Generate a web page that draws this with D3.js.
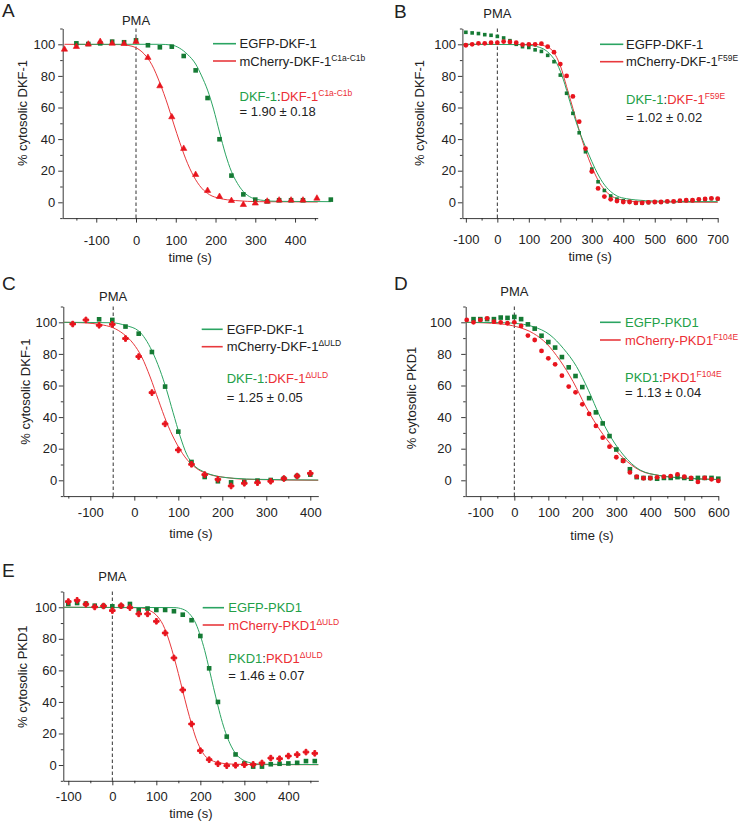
<!DOCTYPE html>
<html>
<head>
<meta charset="utf-8">
<script src="https://cdn.jsdelivr.net/npm/d3@7"></script>
<style>
  body { margin: 0; background: #fff; }
  svg { display: block; }
  text { font-family: "Liberation Sans", Arial, sans-serif; fill: #222; }
</style>
</head>
<body>
<div id="chart"></div>
<script>
// ---- data: [time (s), % cytosolic] ----

// A: EGFP-DKF-1 vs mCherry-DKF-1 C1a-C1b
const aGreen = [[-150,100.6],[-120,100.2],[-90,100.6],[-60,101.7],[-30,101.3],[0,102.5],[30,99.4],[60,98.1],[90,98.5],[120,92.6],[150,83.5],[180,66],[210,39.9],[240,16.9],[270,5],[300,1.7],[330,0.6],[360,1.3],[390,1.3],[420,1.3],[490,1.7]];
const aRed = [[-180,96.8],[-150,98.5],[-120,100],[-90,101.7],[-60,100.6],[-30,100.4],[0,101.7],[30,91.6],[60,73.6],[90,54],[120,34],[150,17.5],[180,7.4],[210,3.6],[240,1.0],[270,-1.5],[300,-0.6],[330,0.6],[360,1.3],[390,1.3],[420,1.3],[455,2.5]];
const aGreenFit = [[-150,100],[60,100],[90,99.5],[110,97.5],[130,93.5],[150,87.5],[165,80],[180,71],[195,59],[210,44.5],[225,30.5],[240,19.5],[255,12],[270,6.8],[290,3],[320,1.2],[360,0.6],[490,0.4]];
const aRedFit = [[-180,100],[-40,99.8],[-20,99.3],[0,97.8],[20,94],[40,87],[60,75.5],[80,61.5],[95,49.5],[110,38],[125,27.5],[145,16.5],[165,9],[185,4.8],[210,2.5],[250,1.1],[310,0.4],[457,0.2]];

// B: EGFP-DKF-1 vs mCherry-DKF-1 F59E
const bGreen = [[-100,107.6],[-80,107.2],[-60,106.8],[-40,106.1],[-20,105.7],[0,105],[20,104],[40,102.3],[60,100],[80,98.5],[100,98],[120,96.5],[140,95.5],[160,93],[180,89],[200,80.5],[220,69],[240,56.3],[260,44],[280,32],[300,21],[320,13],[340,7.5],[360,4],[380,2],[400,1],[420,0.5],[440,-0.6],[460,-0.6],[480,-0.2],[500,0],[520,0],[540,0.4],[560,0.4],[580,0.8],[600,1.1],[620,1.1],[640,1.7],[660,1.9],[680,2.3],[700,2.1]];
const bRed = [[-100,99.4],[-80,100],[-60,100.6],[-40,100.6],[-20,101],[0,101],[20,101.7],[40,101.5],[60,101],[80,99.8],[100,100],[120,100],[140,100.4],[160,98.5],[180,95],[200,87.5],[220,80],[240,67],[260,51],[280,34],[300,19.5],[320,8.8],[340,3.6],[360,1.9],[380,0.8],[400,0.2],[420,0.2],[440,-0.4],[460,-0.4],[480,0],[500,0.2],[520,0.2],[540,0.6],[560,0.6],[580,1],[600,1.3],[620,1.3],[640,1.9],[660,2.1],[680,2.5],[700,2.3]];
const bGreenFit = [[-111,100],[80,99.8],[115,99],[155,96],[175,92],[190,87.5],[210,77.5],[230,64],[250,51],[270,40],[290,30.5],[310,21.5],[335,12.5],[360,6.8],[380,4],[410,2.3],[440,1.5],[500,0.8],[600,0.5],[700,0.4]];
const bRedFit = [[-111,100],[130,99.8],[150,99],[170,97],[185,93],[200,86.5],[220,73.2],[240,59.5],[260,45.5],[280,33],[300,22.5],[320,14],[340,8],[360,4.3],[385,2],[410,1],[460,0.3],[700,0]];

// C: EGFP-DKF-1 vs mCherry-DKF-1 ΔULD
const cGreen = [[-80,101.9],[-50,101.5],[-20,97.3],[10,92.8],[40,81.2],[70,59.3],[100,30.8],[130,11.6],[160,2.1],[190,-0.6],[220,-1.3],[250,-1],[280,-0.2],[310,0.2],[340,1.1],[370,2.7],[400,3.6]];
const cRed = [[-140,98.9],[-110,101.5],[-80,98.1],[-50,98.7],[-20,89.7],[10,78.3],[40,55.5],[70,35.7],[100,19.2],[130,10.1],[160,3.6],[190,0.6],[220,-3.6],[250,-1.9],[280,-1.5],[310,-0.6],[340,1.1],[370,2.7],[400,4.4]];
const cGreenFit = [[-161,100],[-50,99.7],[-20,98],[10,94.5],[25,89.5],[40,82],[58,70],[73,57.5],[88,43],[104,28],[119,16.5],[134,10],[157,5.5],[187,2.7],[225,1.3],[286,0.6],[418,0.2]];
const cRedFit = [[-161,100],[-110,99.6],[-78,98.6],[-48,96.5],[-25,92.7],[-2,86.4],[17,78],[36,65.4],[55,50.6],[73,37],[92,25.4],[115,14.8],[142,7.4],[172,3.6],[210,1.7],[255,0.6],[418,0]];

// D: EGFP-PKD1 vs mCherry-PKD1 F104E
const dGreen = [[-120,102],[-100,102],[-80,102],[-60,102],[-40,103],[-20,102.8],[0,103.4],[20,102],[40,98.7],[60,96],[80,91.5],[100,87.5],[120,84],[140,78],[160,71.5],[180,66],[200,59],[220,52],[240,43],[260,36],[280,28],[300,19.5],[320,12.5],[340,7],[360,2],[380,1.5],[400,1.5],[420,1],[440,1.5],[460,1.5],[480,2],[500,1.5],[520,1],[540,1.5],[560,1.5],[580,1.5],[600,1]];
const dRed = [[-140,101.5],[-120,100],[-100,101.5],[-80,102.5],[-60,100.4],[-40,100],[-20,99.4],[0,100],[20,97.7],[40,91.6],[60,88.8],[80,81.9],[100,77.2],[120,73.4],[140,66.2],[160,59.3],[180,55.7],[200,48.1],[220,42],[240,34.4],[260,27],[280,21.3],[300,14.6],[320,12.2],[340,5],[360,2.3],[380,1.3],[400,1.3],[420,1.9],[440,2.3],[460,2.7],[480,3.8],[500,2.3],[520,1.5],[540,-1],[560,1.5],[580,0.6],[600,-0.4]];
const dGreenFit = [[-143,100],[-42,99.8],[17,99],[56,97.2],[105,92],[144,83.5],[183,72],[218,57],[252,40.3],[286,26.6],[321,16],[370,6.5],[428,3],[507,1.3],[600,0.5]];
const dRedFit = [[-143,100],[-42,99],[7,97.2],[56,93],[95,86.5],[134,76],[173,62.4],[208,47.6],[242,35],[281,23.4],[321,14],[370,6.2],[428,3],[507,1.3],[600,0.5]];

// E: EGFP-PKD1 vs mCherry-PKD1 ΔULD
const eGreen = [[-100,102.1],[-80,102.7],[-60,102.3],[-40,101],[-20,100.8],[0,100.6],[20,100.8],[40,102.1],[60,98.1],[80,99.2],[100,98.3],[120,98.3],[140,97.5],[160,95.3],[180,91.8],[200,81.8],[220,61.3],[240,40],[260,18],[280,6.7],[300,1],[320,-1],[340,-1],[360,0.5],[380,0.8],[400,1],[420,1.4],[440,2.5],[460,2.5]];
const eRed = [[-100,103.6],[-80,104.4],[-60,101.9],[-40,100.2],[-20,100.8],[0,97.9],[20,101],[40,99.8],[60,95.8],[80,95.8],[100,91.1],[120,83.7],[140,67.9],[160,47.6],[180,26],[200,9.1],[220,3.4],[240,0.8],[260,-0.4],[280,-0.2],[300,0.2],[320,0.4],[340,1.3],[360,4.4],[380,4],[400,5.7],[420,6.6],[440,8.2],[460,7.4]];
const eGreenFit = [[-111,100],[140,99.8],[160,98.8],[175,96],[190,89.5],[200,82],[210,72.5],[220,61],[230,49],[240,37.5],[250,27],[260,18.5],[270,12],[280,7.3],[295,3.5],[315,1.3],[340,0.5],[468,0.3]];
const eRedFit = [[-111,100],[60,99.7],[80,98.5],[100,95],[115,89],[130,78],[140,68.5],[150,58],[160,47],[170,36],[180,26],[190,17],[200,10.5],[210,6],[225,3],[245,1.3],[270,0.6],[320,0.3],[468,0.2]];

// ticks
const yMajorTicks = [0, 20, 40, 60, 80, 100];
const yMinorTicks = [-10, 10, 30, 50, 70, 90, 110];
const xMajorTicks400 = [-100, 0, 100, 200, 300, 400];
const xMinorTicksA = [-150, -50, 50, 150, 250, 350, 450];
const xMajorTicksB = [-100, 0, 100, 200, 300, 400, 500, 600, 700];
const xMinorTicksB = [-50, 50, 150, 250, 350, 450, 550, 650];
const xMinorTicksC = [-150, -50, 50, 150, 250, 350];
const xMajorTicksD = [-100, 0, 100, 200, 300, 400, 500, 600];
const xMinorTicksD = [-50, 50, 150, 250, 350, 450, 550];
const xMinorTicksE = [-50, 50, 150, 250, 350, 450];

// ---- styles ----
const GREEN_MARK = "#157a34";
const GREEN_LINE = "#2ba462";
const GREEN_TEXT = "#23a048";
const RED_MARK = "#e8141d";
const RED_LINE = "#e8393d";
const RED_TEXT = "#ec2f36";

const svg = d3.select("#chart").append("svg").attr("width", 740).attr("height", 822);

const panels = [
  {
    letter: "A", letterPos: [2, 17],
    xRange: [62.7, 317.7], xDomain: [-184.4, 457], yRange: [218.1, 28.5],
    xMajor: xMajorTicks400, xMinor: xMinorTicksA, xLabelOffset: 17.5, yLabelGap: 7.5,
    pma: 0, pmaY: 25, xTitleY: 262, yTitle: "% cytosolic DKF-1", yTitlePos: [27, 113],
    green: aGreen, red: aRed, greenFit: aGreenFit, redFit: aRedFit,
    greenShape: "square", redShape: "triangle",
    legendX: [213, 236], legendY: [43.7, 61], textX: 239.5,
    names: ["EGFP-DKF-1", "mCherry-DKF-1"], sup: "C1a-C1b",
    ratioNames: ["DKF-1", "DKF-1"], ratioY: [100.5, 116], ratio: "= 1.90 ± 0.18", colouredLegend: false
  },
  {
    letter: "B", letterPos: [394, 18],
    xRange: [462.4, 717.7], xDomain: [-111, 700], yRange: [218.1, 28.5],
    xMajor: xMajorTicksB, xMinor: xMinorTicksB, xLabelOffset: 16.5, yLabelGap: 6.4,
    pma: 0, pmaY: 18, xTitleY: 261, yTitle: "% cytosolic DKF-1", yTitlePos: [424, 113],
    green: bGreen, red: bRed, greenFit: bGreenFit, redFit: bRedFit,
    greenShape: "smallsquare", redShape: "dot",
    legendX: [600, 623.3], legendY: [44.3, 61.7], textX: 626,
    names: ["EGFP-DKF-1", "mCherry-DKF-1"], sup: "F59E",
    ratioNames: ["DKF-1", "DKF-1"], ratioY: [103.5, 121.5], ratio: "= 1.02 ± 0.02", colouredLegend: false
  },
  {
    letter: "C", letterPos: [2, 290],
    xRange: [63.3, 318.3], xDomain: [-161.4, 418.2], yRange: [496.1, 306.5],
    xMajor: xMajorTicks400, xMinor: xMinorTicksC, xLabelOffset: 12, yLabelGap: 6,
    pma: -48, pmaY: 301, xTitleY: 537.5, yTitle: "% cytosolic DKF-1", yTitlePos: [30, 391.7],
    green: cGreen, red: cRed, greenFit: cGreenFit, redFit: cRedFit,
    greenShape: "square", redShape: "cross",
    legendX: [201.7, 222.7], legendY: [329.3, 346.7], textX: 226.7,
    names: ["EGFP-DKF-1", "mCherry-DKF-1"], sup: "\u0394ULD",
    ratioNames: ["DKF-1", "DKF-1"], ratioY: [382.8, 401.8], ratio: "= 1.25 ± 0.05", colouredLegend: false
  },
  {
    letter: "D", letterPos: [394, 290],
    xRange: [465.7, 718.3], xDomain: [-143, 600], yRange: [496.1, 306.5],
    xMajor: xMajorTicksD, xMinor: xMinorTicksD, xLabelOffset: 12, yLabelGap: 14,
    pma: 0, pmaY: 296, xTitleY: 539.5, yTitle: "% cytosolic PKD1", yTitlePos: [416, 398],
    green: dGreen, red: dRed, greenFit: dGreenFit, redFit: dRedFit,
    greenShape: "square", redShape: "dot",
    legendX: [600, 620.7], legendY: [322.3, 340], textX: 625,
    names: ["EGFP-PKD1", "mCherry-PKD1"], sup: "F104E",
    ratioNames: ["PKD1", "PKD1"], ratioY: [381.8, 397.2], ratio: "= 1.13 ± 0.04", colouredLegend: true
  },
  {
    letter: "E", letterPos: [2, 577],
    xRange: [63.3, 318.3], xDomain: [-111.4, 468], yRange: [780.8, 591.5],
    xMajor: xMajorTicks400, xMinor: xMinorTicksE, xLabelOffset: 11, yLabelGap: 6.6,
    pma: 0, pmaY: 580.5, xTitleY: 817.5, yTitle: "% cytosolic PKD1", yTitlePos: [27, 676.7],
    green: eGreen, red: eRed, greenFit: eGreenFit, redFit: eRedFit,
    greenShape: "square", redShape: "cross",
    legendX: [202.7, 224], legendY: [607.7, 625], textX: 228.3,
    names: ["EGFP-PKD1", "mCherry-PKD1"], sup: "\u0394ULD",
    ratioNames: ["PKD1", "PKD1"], ratioY: [662.8, 680.2], ratio: "= 1.46 ± 0.07", colouredLegend: true
  }
];

function drawMarks(g, pts, shape, color, x, y) {
  if (shape === "square" || shape === "smallsquare") {
    const s = shape === "square" ? 4.6 : 3.6;
    g.append("g").selectAll("rect").data(pts).join("rect")
      .attr("x", d => x(d[0]) - s / 2)
      .attr("y", d => y(d[1]) - s / 2)
      .attr("width", s).attr("height", s)
      .attr("fill", color);
  } else if (shape === "dot") {
    g.append("g").selectAll("circle").data(pts).join("circle")
      .attr("cx", d => x(d[0])).attr("cy", d => y(d[1]))
      .attr("r", 2.4).attr("fill", color);
  } else {
    const type = shape === "triangle" ? d3.symbolTriangle : d3.symbolCross;
    const size = shape === "triangle" ? 17 : 17;
    g.append("g").selectAll("path").data(pts).join("path")
      .attr("transform", d => `translate(${x(d[0])},${y(d[1])})`)
      .attr("d", d3.symbol(type, size))
      .attr("fill", color)
      .attr("stroke", color).attr("stroke-width", shape === "cross" ? 1 : 0.6)
      .attr("stroke-linejoin", "round");
  }
}

function drawPanel(p) {
  const g = svg.append("g");
  const x = d3.scaleLinear().domain(p.xDomain).range(p.xRange);
  const y = d3.scaleLinear().domain([-10, 110]).range(p.yRange);
  const fmt = d => String(d);

  // x axis: minor then major
  g.append("g")
    .attr("transform", `translate(0,${p.yRange[0]})`)
    .call(d3.axisBottom(x).tickValues(p.xMinor).tickSize(2.5).tickFormat(""))
    .call(a => a.select(".domain").remove());
  g.append("g")
    .attr("transform", `translate(0,${p.yRange[0]})`)
    .call(d3.axisBottom(x).tickValues(p.xMajor).tickSize(4.5).tickSizeOuter(0)
      .tickPadding(p.xLabelOffset - 4.5).tickFormat(fmt));

  // y axis
  g.append("g")
    .attr("transform", `translate(${p.xRange[0]},0)`)
    .call(d3.axisLeft(y).tickValues(yMinorTicks).tickSize(2.5).tickFormat(""))
    .call(a => a.select(".domain").remove());
  g.append("g")
    .attr("transform", `translate(${p.xRange[0]},0)`)
    .call(d3.axisLeft(y).tickValues(yMajorTicks).tickSize(4.5).tickSizeOuter(0)
      .tickPadding(p.yLabelGap - 4.5).tickFormat(fmt));

  g.selectAll(".tick line").attr("stroke", "#222").attr("stroke-width", 0.9);
  g.selectAll(".domain").attr("stroke", "#222").attr("stroke-width", 0.9);
  g.selectAll(".tick text").attr("font-size", 13).attr("fill", "#222")
    .attr("font-family", "'Liberation Sans', Arial, sans-serif");

  // PMA addition marker
  g.append("line")
    .attr("x1", x(p.pma)).attr("x2", x(p.pma))
    .attr("y1", p.yRange[1]).attr("y2", p.yRange[0])
    .attr("stroke", "#333").attr("stroke-width", 1)
    .attr("stroke-dasharray", "3.5,2.5");
  g.append("text").attr("x", x(p.pma)).attr("y", p.pmaY)
    .attr("text-anchor", "middle").attr("font-size", 13).text("PMA");

  // fitted curves
  const line = d3.line().x(d => x(d[0])).y(d => y(d[1])).curve(d3.curveMonotoneX);
  g.append("path").datum(p.redFit).attr("d", line)
    .attr("fill", "none").attr("stroke", RED_LINE).attr("stroke-width", 1);
  g.append("path").datum(p.greenFit).attr("d", line)
    .attr("fill", "none").attr("stroke", GREEN_LINE).attr("stroke-width", 1);

  // data points
  drawMarks(g, p.green, p.greenShape, GREEN_MARK, x, y);
  drawMarks(g, p.red, p.redShape, RED_MARK, x, y);

  // titles
  g.append("text").attr("x", p.letterPos[0]).attr("y", p.letterPos[1])
    .attr("font-size", 19).text(p.letter);
  g.append("text").attr("x", (p.xRange[0] + p.xRange[1]) / 2).attr("y", p.xTitleY)
    .attr("text-anchor", "middle").attr("font-size", 13).text("time (s)");
  g.append("text")
    .attr("transform", `translate(${p.yTitlePos[0]},${p.yTitlePos[1]}) rotate(-90)`)
    .attr("text-anchor", "middle").attr("font-size", 13).text(p.yTitle);

  // legend
  const lineCols = [GREEN_LINE, RED_LINE];
  const textCols = p.colouredLegend ? [GREEN_TEXT, RED_TEXT] : ["#222", "#222"];
  p.names.forEach((name, i) => {
    g.append("line")
      .attr("x1", p.legendX[0]).attr("x2", p.legendX[1])
      .attr("y1", p.legendY[i]).attr("y2", p.legendY[i])
      .attr("stroke", lineCols[i]).attr("stroke-width", 1.6);
    const t = g.append("text").attr("x", p.textX).attr("y", p.legendY[i] + 4.6)
      .attr("font-size", 13).style("fill", textCols[i]).text(name);
    if (i === 1) {
      t.append("tspan").attr("font-size", 8.5).attr("dy", -5).style("fill", textCols[i]).text(p.sup);
    }
  });

  // ratio
  const r = g.append("text").attr("x", p.textX).attr("y", p.ratioY[0]).attr("font-size", 13);
  r.append("tspan").style("fill", GREEN_TEXT).text(p.ratioNames[0]);
  r.append("tspan").style("fill", "#222").text(":");
  r.append("tspan").style("fill", RED_TEXT).text(p.ratioNames[1]);
  r.append("tspan").attr("font-size", 8.5).attr("dy", -5).style("fill", RED_TEXT).text(p.sup);
  g.append("text").attr("x", p.textX).attr("y", p.ratioY[1])
    .attr("font-size", 13).text(p.ratio);
}

panels.forEach(drawPanel);
</script>
</body>
</html>
